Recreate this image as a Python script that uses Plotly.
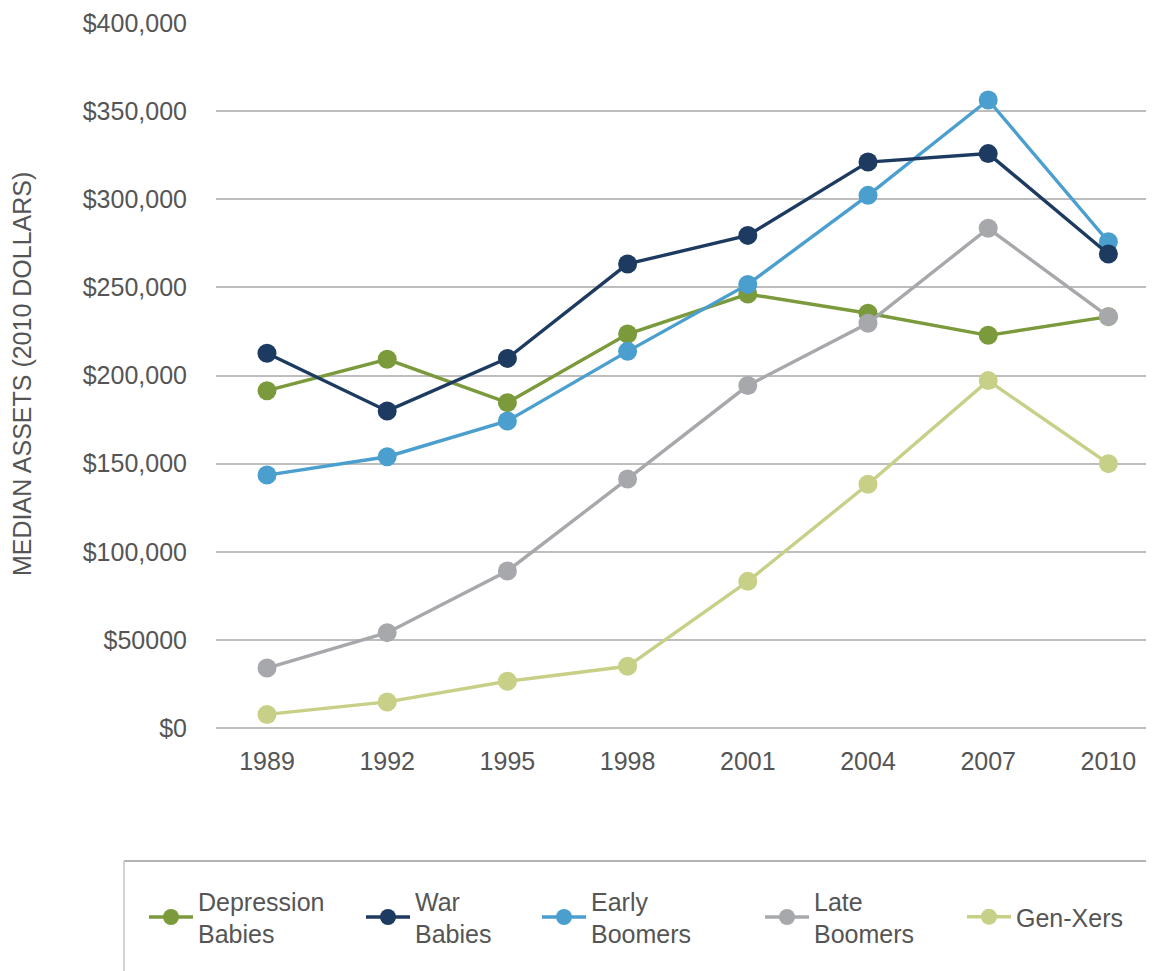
import plotly.graph_objects as go

years = ["1989", "1992", "1995", "1998", "2001", "2004", "2007", "2010"]

depression_babies = [191400, 209200, 184600, 223500, 246200, 235300, 222800, 233400]
war_babies = [212600, 179900, 209700, 263300, 279500, 321100, 325900, 268900]
early_boomers = [143500, 153900, 174200, 213700, 251700, 302200, 356300, 275900]
late_boomers = [34000, 54100, 89100, 141300, 194300, 229600, 283500, 233400]
gen_xers = [7700, 14800, 26500, 35000, 83200, 138300, 197100, 150000]

series_names = ["Depression<br>Babies", "War<br>Babies", "Early<br>Boomers", "Late<br>Boomers", "Gen-Xers"]
series_values = [depression_babies, war_babies, early_boomers, late_boomers, gen_xers]
series_colors = ["#7a9a3c", "#1d3a60", "#4b9fcf", "#a7a8ac", "#c8cf87"]

y_tick_vals = [0, 50000, 100000, 150000, 200000, 250000, 300000, 350000, 400000]
y_tick_text = ["$0", "$50000", "$100,000", "$150,000", "$200,000", "$250,000", "$300,000", "$350,000", "$400,000"]

y_title = "MEDIAN ASSETS (2010 DOLLARS)"

FONT = "Liberation Sans, Arial, sans-serif"
TXT = "#555555"

OFF = 8  # page body margin
W, H = 1154, 971
ML, MR, MT, MB = 216 - OFF, 0, 23 - OFF, H - (728 - OFF)
PW = W - ML - MR
PH = H - MT - MB

def px_x(p):
    return (p - OFF - ML) / PW

def px_y(p):
    return (H - MB - (p - OFF)) / PH

# category index range so that 1989 sits at page x=267 and step is 120.2 px
x0 = (216 - 267) / 120.2
x1 = (216 + PW - 267) / 120.2

fig = go.Figure()

draw_order = [0, 2, 1, 3, 4]
legend_ids = ["legend", "legend2", "legend3", "legend4", "legend5"]
for i in draw_order:
    fig.add_trace(go.Scatter(
        x=years, y=series_values[i], name=series_names[i],
        mode="lines+markers",
        line=dict(color=series_colors[i], width=3.4),
        marker=dict(color=series_colors[i], size=19),
        legend=legend_ids[i],
        cliponaxis=False,
    ))

legend_marker_px = [170, 387, 563, 786, 988]
legend_y = px_y(917)
lay = {}
for k, lid in enumerate(legend_ids):
    lay[lid] = dict(
        x=px_x(legend_marker_px[k] - 26), xanchor="left",
        y=legend_y, yanchor="middle",
        orientation="v",
        bgcolor="rgba(0,0,0,0)",
        font=dict(family=FONT, size=25, color=TXT),
        itemwidth=44,
        valign="middle",
    )

fig.update_layout(
    width=W, height=H,
    margin=dict(l=ML, r=MR, t=MT, b=MB),
    paper_bgcolor="white", plot_bgcolor="white",
    showlegend=True,
    font=dict(family=FONT, size=25, color=TXT),
    xaxis=dict(
        type="category", range=[x0, x1],
        showgrid=False, zeroline=False, showline=False,
        ticks="", ticklabelstandoff=16,
        tickfont=dict(family=FONT, size=25, color=TXT),
    ),
    yaxis=dict(
        range=[0, 400000], tickvals=y_tick_vals, ticktext=y_tick_text,
        showgrid=True, gridcolor="#bdbdbd", gridwidth=1.5,
        zeroline=True, zerolinecolor="#bdbdbd", zerolinewidth=1.5,
        showline=False, ticks="", ticklabelstandoff=28,
        tickfont=dict(family=FONT, size=25, color=TXT),
    ),
    annotations=[dict(
        text=y_title, textangle=-90,
        xref="paper", yref="paper", x=px_x(22), y=px_y(374),
        xanchor="center", yanchor="middle", showarrow=False,
        font=dict(family=FONT, size=25, color=TXT),
    )],
    shapes=[
        dict(type="line", xref="paper", yref="paper",
             x0=px_x(124), x1=px_x(1170), y0=px_y(861), y1=px_y(861),
             line=dict(color="#9a9a9a", width=1.5)),
        dict(type="line", xref="paper", yref="paper",
             x0=px_x(124), x1=px_x(124), y0=px_y(861), y1=px_y(990),
             line=dict(color="#c4c4c4", width=1.5)),
    ],
    **lay,
)

fig.write_html("out.html")
